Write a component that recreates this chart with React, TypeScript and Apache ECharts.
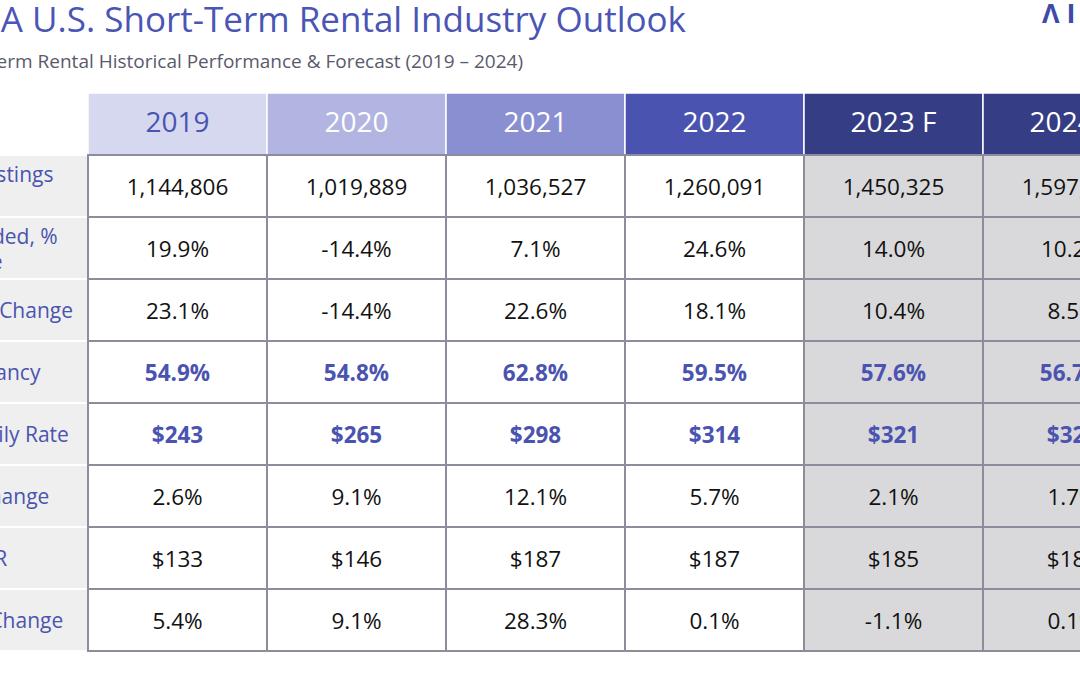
import React, { useEffect, useRef } from "react";
import * as echarts from "echarts";

const years = ["2019", "2020", "2021", "2022", "2023 F", "2024 F"];
const metricLabels = [
  "Available Listings\n(Total)",
  "Listings Added, %\nYoY Change",
  "Demand % Change",
  "Avg. Occupancy",
  "Average Daily Rate",
  "ADR YoY Change",
  "Avg. RevPAR",
  "RevPAR % Change",
];
const listings = [1144806, 1019889, 1036527, 1260091, 1450325, 1597852];
const listingsAddedPct = [19.9, -14.4, 7.1, 24.6, 14.0, 10.2];
const demandPct = [23.1, -14.4, 22.6, 18.1, 10.4, 8.5];
const occupancyPct = [54.9, 54.8, 62.8, 59.5, 57.6, 56.7];
const adr = [243, 265, 298, 314, 321, 326];
const adrPct = [2.6, 9.1, 12.1, 5.7, 2.1, 1.7];
const revpar = [133, 146, 187, 187, 185, 185];
const revparPct = [5.4, 9.1, 28.3, 0.1, -1.1, 0.1];

const fmtInt = (v: number) => v.toLocaleString("en-US");
const fmtPct = (v: number) => v.toFixed(1) + "%";
const fmtUsd = (v: number) => "$" + v;

const rowsData: { values: string[]; bold: boolean }[] = [
  { values: listings.map(fmtInt), bold: false },
  { values: listingsAddedPct.map(fmtPct), bold: false },
  { values: demandPct.map(fmtPct), bold: false },
  { values: occupancyPct.map(fmtPct), bold: true },
  { values: adr.map(fmtUsd), bold: true },
  { values: adrPct.map(fmtPct), bold: false },
  { values: revpar.map(fmtUsd), bold: false },
  { values: revparPct.map(fmtPct), bold: false },
];

const headerFills = ["#d6d8f0", "#b2b5e2", "#8a8fd2", "#4a54b0", "#353d85", "#353d85"];
const BLUE = "#4a54b0";
const FONT = "'Open Sans', 'Noto Sans', sans-serif";
const OFFSET = 91;

type Cell = { col: number; row: number; kind: string; text: string; bold?: boolean };

const cells: Cell[] = [];
years.forEach((y, i) => cells.push({ col: i + 1, row: 0, kind: "header", text: y }));
metricLabels.forEach((m, r) => cells.push({ col: 0, row: r + 1, kind: "label", text: m }));
rowsData.forEach((rd, r) => {
  rd.values.forEach((v, c) =>
    cells.push({
      col: c + 1,
      row: r + 1,
      kind: years[c].includes("F") ? "forecast" : "data",
      text: v,
      bold: rd.bold,
    })
  );
});

export default function App() {
  const ref = useRef<HTMLDivElement>(null);
  useEffect(() => {
    if (!ref.current) return;
    const chart = echarts.init(ref.current, null, { renderer: "svg" });
    chart.setOption({
      animation: false,
      backgroundColor: "#ffffff",
      grid: { left: 0, right: 0, top: 93, bottom: 24 },
      xAxis: { type: "category", data: ["", ...years], show: false },
      yAxis: { type: "category", data: ["", ...metricLabels], inverse: true, show: false },
      graphic: [
        {
          type: "text",
          x: 686 + OFFSET,
          y: 18,
          style: {
            text: "AirDNA U.S. Short-Term Rental Industry Outlook",
            fontSize: 35,
            fontFamily: FONT,
            fill: "#4a55b5",
            align: "right",
            verticalAlign: "middle",
          },
        },
        {
          type: "text",
          x: 523 + OFFSET,
          y: 61,
          style: {
            text: "Short-Term Rental Historical Performance & Forecast (2019 – 2024)",
            fontSize: 19,
            fontFamily: FONT,
            fill: "#5a5a6c",
            align: "right",
            verticalAlign: "middle",
          },
        },
        {
          type: "text",
          x: 1042 + OFFSET,
          y: 12,
          style: {
            text: "Λ I R D N Λ",
            fontSize: 27,
            fontWeight: "bold",
            fontFamily: FONT,
            fill: "#3f4aa8",
            align: "left",
            verticalAlign: "middle",
          },
        },
      ],
      series: [
        {
          type: "custom",
          data: cells.map((c) => [c.col, c.row]),
          renderItem: (params: any, api: any) => {
            const cell = cells[params.dataIndex];
            const pt = api.coord([api.value(0), api.value(1)]);
            const sz = api.size([1, 1]);
            const w = sz[0];
            const h = sz[1];
            const x0 = pt[0] - w / 2;
            const y0 = pt[1] - h / 2;
            if (cell.kind === "header") {
              return {
                type: "group",
                children: [
                  {
                    type: "rect",
                    shape: { x: x0, y: y0, width: w, height: h },
                    style: { fill: headerFills[cell.col - 1], stroke: "#ffffff", lineWidth: 1.5 },
                  },
                  {
                    type: "text",
                    style: {
                      text: cell.text,
                      x: pt[0],
                      y: pt[1] - 3,
                      align: "center",
                      verticalAlign: "middle",
                      fontSize: 28,
                      fontFamily: FONT,
                      fill: cell.col === 1 ? BLUE : "#ffffff",
                    },
                  },
                ],
              };
            }
            if (cell.kind === "label") {
              return {
                type: "group",
                children: [
                  {
                    type: "rect",
                    shape: { x: x0, y: y0, width: w, height: h },
                    style: { fill: "#efefef", stroke: "#ffffff", lineWidth: 2 },
                  },
                  {
                    type: "text",
                    style: {
                      text: cell.text,
                      x: x0 + w - 201,
                      y: pt[1],
                      align: "left",
                      verticalAlign: "middle",
                      fontSize: 21,
                      lineHeight: 25,
                      fontFamily: FONT,
                      fill: BLUE,
                    },
                  },
                ],
              };
            }
            return {
              type: "group",
              children: [
                {
                  type: "rect",
                  shape: { x: x0, y: y0, width: w, height: h },
                  style: {
                    fill: cell.kind === "forecast" ? "#d9d9db" : "#ffffff",
                    stroke: "#8c8c9c",
                    lineWidth: 2,
                  },
                },
                {
                  type: "text",
                  style: {
                    text: cell.text,
                    x: pt[0],
                    y: pt[1],
                    align: "center",
                    verticalAlign: "middle",
                    fontSize: 22.5,
                    fontWeight: cell.bold ? "bold" : "normal",
                    fontFamily: FONT,
                    fill: cell.bold ? BLUE : "#111111",
                  },
                },
              ],
            };
          },
        },
      ],
    });
    return () => chart.dispose();
  }, []);
  return (
    <div
      style={{
        position: "fixed",
        left: 0,
        top: 0,
        width: 1080,
        height: 675,
        overflow: "hidden",
        background: "#ffffff",
      }}
    >
      <div
        ref={ref}
        style={{ position: "absolute", left: -OFFSET, top: 0, width: 1253, height: 675 }}
      />
    </div>
  );
}
